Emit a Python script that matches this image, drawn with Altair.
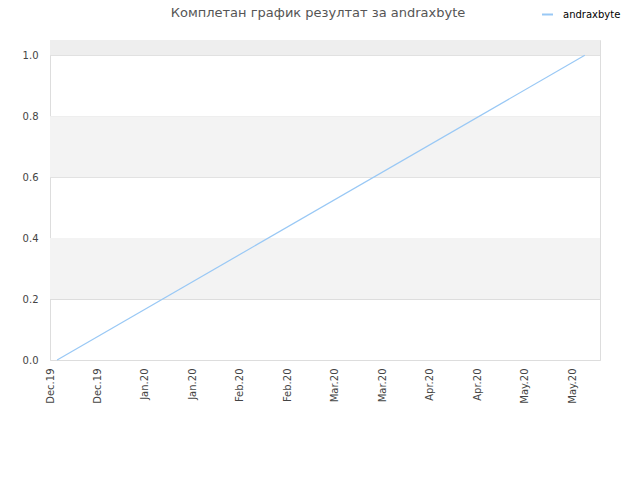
import altair as alt
import pandas as pd

tick_labels = ["Dec.19", "Dec.19", "Jan.20", "Jan.20", "Feb.20", "Feb.20",
               "Mar.20", "Mar.20", "Apr.20", "Apr.20", "May.20", "May.20"]
tick_pos = list(range(len(tick_labels)))
series_x = [0.15, 11.26]
series_y = [0.0, 1.0]
series_name = "andraxbyte"
band_lo = [0.2, 0.6, 1.0]
band_hi = [0.4, 0.8, 1.05]
band_col = ["#f3f3f3", "#f3f3f3", "#eeeeee"]

line_df = pd.DataFrame({"x": series_x, "y": series_y, "s": [series_name] * 2})
band_df = pd.DataFrame({"lo": band_lo, "hi": band_hi, "c": band_col})

xscale = alt.Scale(domain=[0, 11.58], nice=False, zero=False)
yscale = alt.Scale(domain=[0, 1.05], nice=False)

label_js = "[" + ",".join(f"'{l}'" for l in tick_labels) + "]"

bands = alt.Chart(band_df).mark_rect().encode(
    y=alt.Y("lo:Q", scale=yscale),
    y2="hi:Q",
    x=alt.value(0),
    x2=alt.value(550),
    fill=alt.Fill("c:N", scale=None, legend=None),
)

line = alt.Chart(line_df).mark_line(strokeWidth=1.2).encode(
    x=alt.X("x:Q", scale=xscale,
            axis=alt.Axis(values=tick_pos, labelExpr=f"{label_js}[datum.value]",
                          labelAngle=-90, labelAlign="right", labelBaseline="middle",
                          ticks=False, grid=False, domain=False, title=None,
                          labelFont="DejaVu Sans", labelFontSize=10,
                          labelColor="#444444", labelPadding=8)),
    y=alt.Y("y:Q", scale=yscale,
            axis=alt.Axis(values=[0, 0.2, 0.4, 0.6, 0.8, 1.0], format=".1f",
                          ticks=False, grid=True, gridColor="#dddddd",
                          domain=False, title=None,
                          labelFont="DejaVu Sans", labelFontSize=10,
                          labelColor="#444444", labelPadding=12)),
    stroke=alt.Stroke("s:N", scale=alt.Scale(range=["#99c8f5"]),
                      legend=alt.Legend(title=None, orient="none", legendX=491,
                                        legendY=-32, symbolType="stroke",
                                        symbolSize=120, symbolStrokeWidth=2,
                                        labelOffset=9,
                                        labelFont="DejaVu Sans", labelFontSize=10,
                                        labelColor="#000000")),
)

chart = alt.layer(bands, line).resolve_scale(fill="independent", stroke="independent").properties(
    width=550, height=320,
    title=alt.TitleParams("Комплетан график резултат за andraxbyte",
                          font="DejaVu Sans", fontSize=13, fontWeight="normal",
                          color="#555555", anchor="middle", dx=-7, offset=-12),
    autosize=alt.AutoSizeParams(type="none"),
    padding={"left": 42, "top": 32, "right": 30, "bottom": 100},
).configure_view(stroke="#dddddd", strokeWidth=1)

chart.save("out.html", embed_options={"renderer": "svg", "actions": False})
